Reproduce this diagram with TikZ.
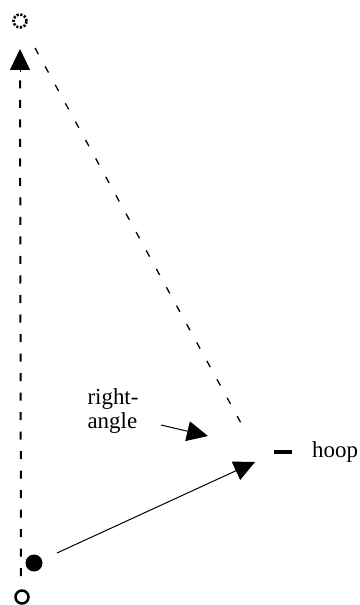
\documentclass[tikz,border=0pt]{standalone}
\usepackage{fontspec}
\setmainfont{Liberation Serif}
\usetikzlibrary{arrows.meta}
\begin{document}
\begin{tikzpicture}[x=1bp,y=-1bp,
  vline/.style={line width=2bp,dash pattern=on 8bp off 11.5bp},
  dline/.style={line width=1.3bp,dash pattern=on 7bp off 14bp},
  bigtip/.style={-{Triangle[length=21bp,width=20bp]}},
  lbl/.style={font=\fontsize{23}{25}\selectfont,inner sep=0pt,align=left}]
\useasboundingbox (0,0) rectangle (359,605);
\node[draw,circle,minimum size=13bp,inner sep=0pt,line width=2.6bp,dash pattern=on 2.2bp off 1.6bp] (top) at (20,21) {};
\node[draw,circle,minimum size=13bp,inner sep=0pt,line width=2.5bp] (bot) at (22,597) {};
\node[fill,circle,minimum size=17bp,inner sep=0pt] (ball) at (34,563) {};
\coordinate (vbot) at (21,576);
\coordinate (vtop) at (20,49);
\coordinate (vstem) at (20,72);
\draw[vline] (vbot) -- (vstem);
\draw[line width=1bp,bigtip] (vstem) -- (vtop);
\coordinate (dstart) at (35,48);
\coordinate (dend) at (247,434);
\draw[dline] (dstart) -- (dend);
\coordinate (tip) at (255,462);
\coordinate (s) at (57,553);
\draw[line width=1bp,bigtip] (s) -- (tip);
\node[lbl] (ra) at (113,411) {right-\\angle};
\coordinate (ratip) at (208,436);
\coordinate (rastart) at (161,425);
\draw[line width=1bp,bigtip] (rastart) -- (ratip);
\coordinate (m1) at (274,452);
\coordinate (m2) at (292,452);
\draw[line width=4bp] (m1) -- (m2);
\node[lbl,anchor=west] (hoop) at (312,452) {hoop};
\end{tikzpicture}
\end{document}
